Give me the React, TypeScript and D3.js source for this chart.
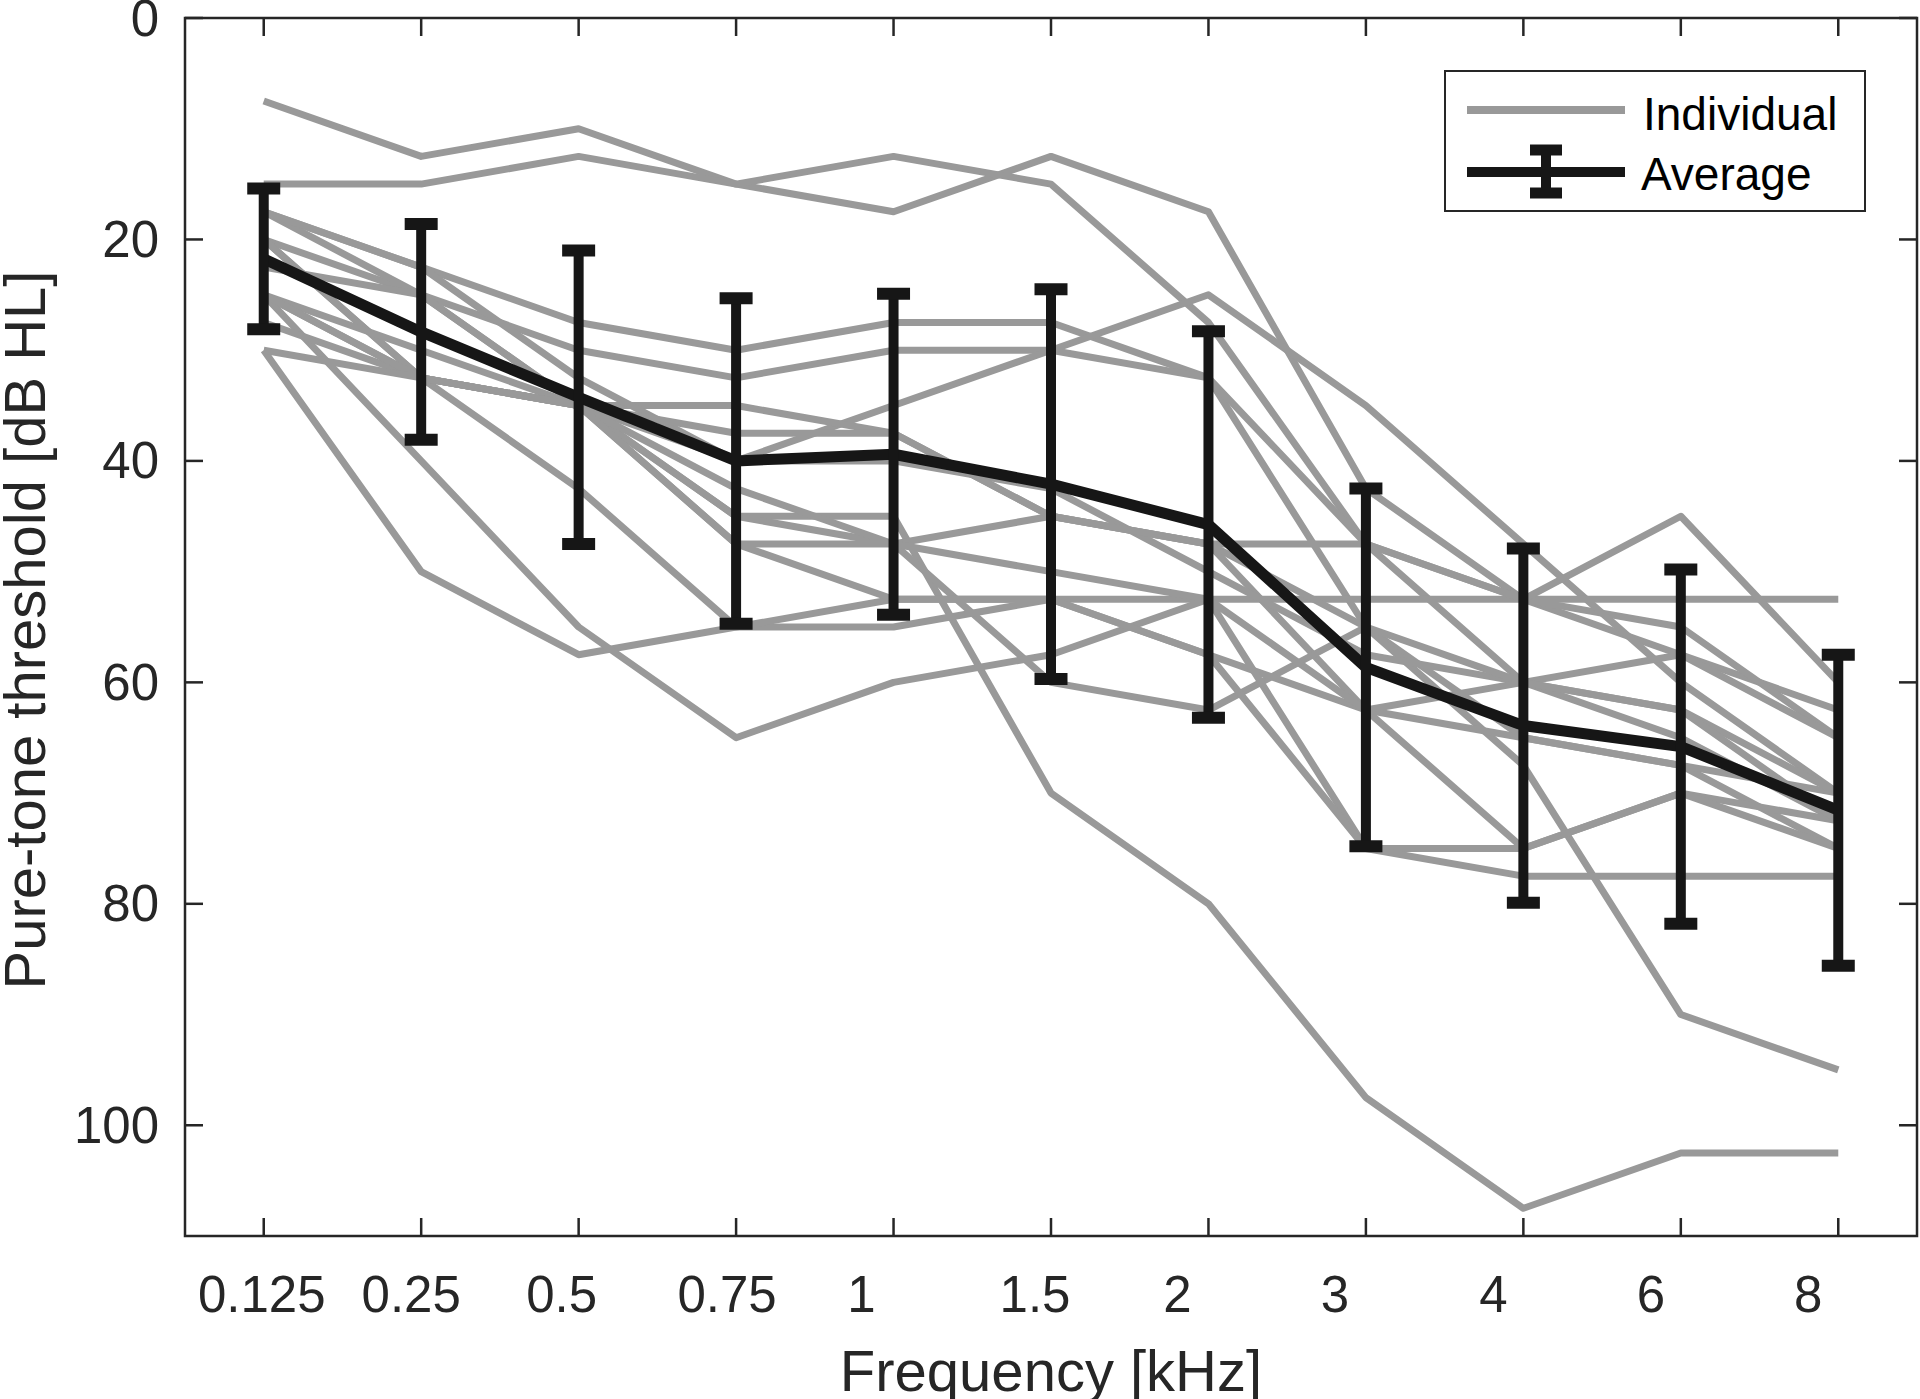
import React from 'react';
import * as d3 from 'd3';

// frequencies (kHz) and y ticks
const frequencies = ['0.125', '0.25', '0.5', '0.75', '1', '1.5', '2', '3', '4', '6', '8'];
const yTicks = [0, 20, 40, 60, 80, 100];

// individual thresholds (dB HL), one array per listener
const listener01 = [7.5, 12.5, 10, 15, 17.5, 12.5, 17.5, 42.5, 52.5, 57.5, 62.5];
const listener02 = [15, 15, 12.5, 15, 12.5, 15, 27.5, 47.5, 60, 65, 72.5];
const listener03 = [17.5, 22.5, 27.5, 30, 27.5, 27.5, 32.5, 55, 65, 67.5, 75];
const listener04 = [20, 25, 30, 32.5, 30, 30, 32.5, 47.5, 52.5, 55, 65];
const listener05 = [20, 32.5, 35, 40, 35, 30, 25, 35, 47.5, 60, 70];
const listener06 = [25, 32.5, 35, 35, 37.5, 45, 47.5, 62.5, 75, 70, 72.5];
const listener07 = [17.5, 25, 35, 45, 45, 70, 80, 97.5, 107.5, 102.5, 102.5];
const listener08 = [22.5, 25, 35, 45, 47.5, 60, 62.5, 55, 67.5, 90, 95];
const listener09 = [30, 50, 57.5, 55, 55, 52.5, 57.5, 62.5, 65, 67.5, 70];
const listener10 = [25, 40, 55, 65, 60, 57.5, 52.5, 52.5, 52.5, 52.5, 52.5];
const listener11 = [20, 32.5, 42.5, 55, 52.5, 52.5, 52.5, 75, 75, 70, 75];
const listener12 = [27.5, 32.5, 35, 47.5, 52.5, 52.5, 57.5, 75, 77.5, 77.5, 77.5];
const listener13 = [25, 30, 35, 42.5, 47.5, 45, 47.5, 47.5, 52.5, 45, 60];
const listener14 = [17.5, 22.5, 32.5, 40, 40, 42.5, 50, 57.5, 60, 62.5, 70];
const listener15 = [25, 32.5, 35, 37.5, 37.5, 45, 47.5, 55, 60, 57.5, 65];
const listener16 = [30, 32.5, 35, 47.5, 47.5, 50, 52.5, 62.5, 60, 62.5, 72.5];

const individuals = [
  listener01, listener02, listener03, listener04, listener05, listener06, listener07, listener08,
  listener09, listener10, listener11, listener12, listener13, listener14, listener15, listener16,
];

// group average and standard deviation
const averageThreshold = [21.75, 28.35, 34.25, 40.0, 39.4, 42.1, 45.75, 58.65, 63.9, 65.8, 71.55];
const thresholdSD = [6.35, 9.75, 13.25, 14.7, 14.5, 17.6, 17.45, 16.15, 16, 16, 14.05];

const W = 1920;
const H = 1399;
const plot = { left: 185, right: 1917, top: 18, bottom: 1236 };

// the tick labels sit a bit left of their ticks in the original
const xLabelShift = [-2, -10, -17, -9, -32, -16, -31, -31, -30, -30, -30];

const FONT = '"Liberation Sans", Arial, Helvetica, sans-serif';
const AXIS = '#262626';
const GRAY = '#999999';
const BLACK = '#161616';

const App: React.FC = () => {
  const x = d3.scalePoint<string>()
    .domain(frequencies)
    .range([plot.left, plot.right])
    .padding(0.5);

  const y = d3.scaleLinear()
    .domain([0, 110])
    .range([plot.top, plot.bottom]);

  const line = d3.line<number>()
    .x((_, i) => x(frequencies[i])!)
    .y(d => y(d));

  const tickLen = 18;
  const capHalf = 16.5;

  return (
    <svg width={W} height={H} style={{ position: 'absolute', left: 0, top: 0, display: 'block' }} fontFamily={FONT}>
      <rect x={0} y={0} width={W} height={H} fill="#fff" />

      {/* individual listeners */}
      {individuals.map((s, i) => (
        <path key={i} d={line(s) ?? ''} fill="none" stroke={GRAY} strokeWidth={7} strokeLinejoin="round" />
      ))}

      {/* average */}
      <path d={line(averageThreshold) ?? ''} fill="none" stroke={BLACK} strokeWidth={11} strokeLinejoin="round" />

      {/* error bars */}
      {frequencies.map((f, i) => {
        const cx = x(f)!;
        const y1 = y(averageThreshold[i] - thresholdSD[i]);
        const y2 = y(averageThreshold[i] + thresholdSD[i]);
        return (
          <g key={f} stroke={BLACK}>
            <line x1={cx} x2={cx} y1={y1} y2={y2} strokeWidth={10} />
            <line x1={cx - capHalf} x2={cx + capHalf} y1={y1} y2={y1} strokeWidth={12} />
            <line x1={cx - capHalf} x2={cx + capHalf} y1={y2} y2={y2} strokeWidth={12} />
          </g>
        );
      })}

      {/* axes box */}
      <rect x={plot.left} y={plot.top} width={plot.right - plot.left} height={plot.bottom - plot.top}
        fill="none" stroke={AXIS} strokeWidth={2.5} />

      {/* x ticks, bottom and top */}
      {frequencies.map((f, i) => {
        const tx = x(f)!;
        return (
          <g key={'xt' + f}>
            <line x1={tx} x2={tx} y1={plot.bottom} y2={plot.bottom - tickLen} stroke={AXIS} strokeWidth={2.5} />
            <line x1={tx} x2={tx} y1={plot.top} y2={plot.top + tickLen} stroke={AXIS} strokeWidth={2.5} />
            <text x={tx + xLabelShift[i]} y={plot.bottom + 76} textAnchor="middle" fontSize={51} fill={AXIS}>{f}</text>
          </g>
        );
      })}

      {/* y ticks, left and right */}
      {yTicks.map(t => {
        const ty = y(t);
        return (
          <g key={'yt' + t}>
            <line x1={plot.left} x2={plot.left + tickLen} y1={ty} y2={ty} stroke={AXIS} strokeWidth={2.5} />
            <line x1={plot.right} x2={plot.right - tickLen} y1={ty} y2={ty} stroke={AXIS} strokeWidth={2.5} />
            <text x={plot.left - 26} y={ty} textAnchor="end" dominantBaseline="central" fontSize={51} fill={AXIS}>{t}</text>
          </g>
        );
      })}

      {/* axis titles */}
      <text x={(plot.left + plot.right) / 2} y={1391} textAnchor="middle" fontSize={58} fill={AXIS}>Frequency [kHz]</text>
      <text transform={`translate(45, ${(plot.top + plot.bottom) / 2 + 3}) rotate(-90)`} textAnchor="middle" fontSize={58} fill={AXIS}>
        Pure-tone threshold [dB HL]
      </text>

      {/* legend */}
      <g>
        <rect x={1445} y={71} width={420} height={140} fill="#fff" stroke={AXIS} strokeWidth={2} />
        <line x1={1467} x2={1625} y1={110} y2={110} stroke={GRAY} strokeWidth={8} />
        <text x={1643} y={130} fontSize={46} fill="#000">Individual</text>
        <line x1={1467} x2={1625} y1={172} y2={172} stroke={BLACK} strokeWidth={10} />
        <line x1={1546} x2={1546} y1={150} y2={193} stroke={BLACK} strokeWidth={10} />
        <line x1={1530} x2={1562} y1={150} y2={150} stroke={BLACK} strokeWidth={11} />
        <line x1={1530} x2={1562} y1={193} y2={193} stroke={BLACK} strokeWidth={11} />
        <text x={1641} y={190} fontSize={46} fill="#000">Average</text>
      </g>
    </svg>
  );
};

export default App;
